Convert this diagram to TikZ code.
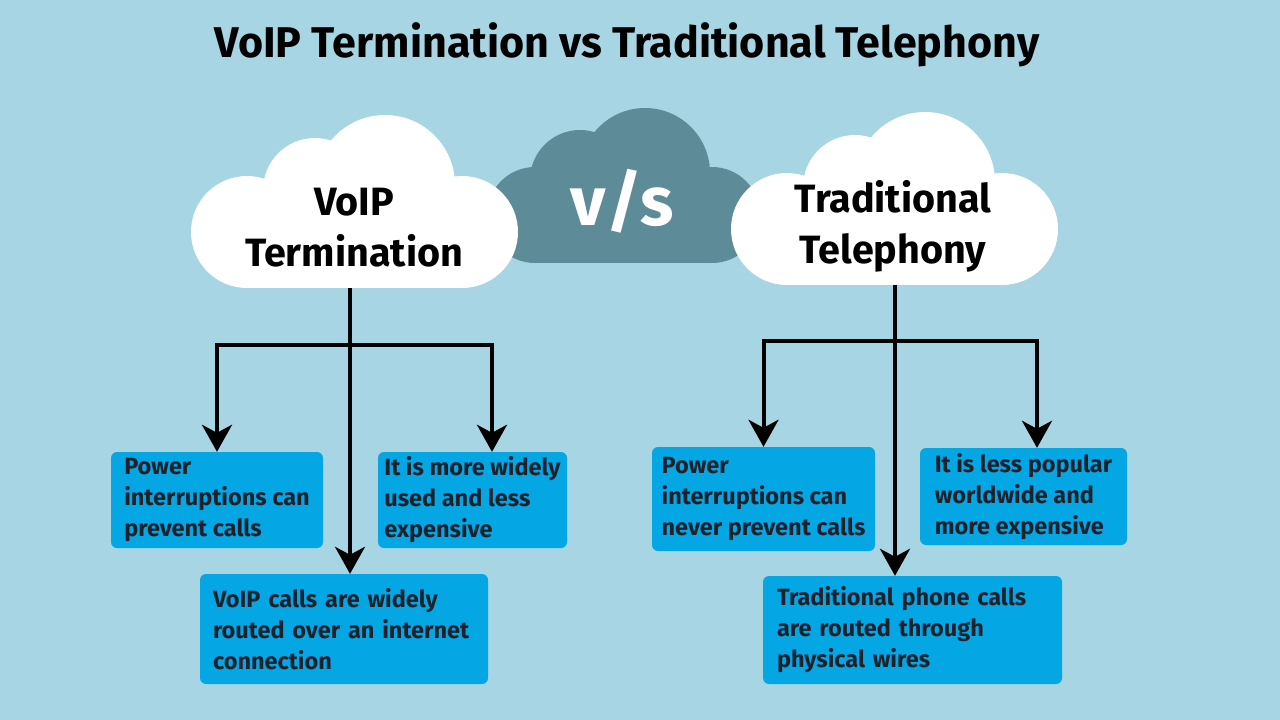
\documentclass[tikz,border=0pt]{standalone}
\usepackage{fontspec}
\setmainfont{Fira Sans}
\usetikzlibrary{arrows.meta, positioning}
\definecolor{skyback}{RGB}{168,213,227}
\definecolor{cloudgrey}{RGB}{94,139,152}
\definecolor{boxblue}{RGB}{5,166,228}
\definecolor{inkdark}{RGB}{28,33,43}

\tikzset{
  infobox/.style={fill=boxblue, rounded corners=6pt, align=left, text=inkdark,
    font=\bfseries\fontsize{23.5}{31}\selectfont},
  cloudtext/.style={align=center, font=\bfseries\fontsize{39.5}{51}\selectfont},
  branch/.style={line width=4pt, -{Stealth[length=27pt, width=30pt, inset=8pt]}},
}

\begin{document}
\begin{tikzpicture}[x=1pt, y=-1pt]
\fill[skyback] (0,0) rectangle (1280,720);
\useasboundingbox (0,0) rectangle (1280,720);

% middle cloud
\fill[cloudgrey] (535,190) rectangle (712,263);
\fill[cloudgrey] (535,215) circle[radius=48pt];
\fill[cloudgrey] (580,180) circle[radius=50pt];
\fill[cloudgrey] (645,173) circle[radius=65pt];
\fill[cloudgrey] (712,215) circle[radius=48pt];

% white clouds
\foreach \dx/\dy in {0/0, 540/-3}{
\begin{scope}[shift={(\dx,\dy)}]
\fill[white] (247,200) rectangle (462,288);
\fill[white] (247,232) circle[radius=56pt];
\fill[white] (315,190) circle[radius=52pt];
\fill[white] (385,185) circle[radius=70pt];
\fill[white] (462,232) circle[radius=56pt];
\end{scope}
}

\node[font=\bfseries\fontsize{43}{45}\selectfont] (title) at (627,45) {VoIP Termination vs Traditional Telephony};
\node[font=\bfseries\fontsize{69}{69}\selectfont, text=white] (vs) at (622,201) {v/s};
\node[cloudtext] (voip) at (354,228) {VoIP\\Termination};
\node[cloudtext] (trad) at (893,226) {Traditional\\Telephony};

% VoIP side
\node[infobox, minimum width=212pt, minimum height=96pt] (lpow) at (217,500) {Power\\interruptions can\\prevent calls};
\node[infobox, minimum width=189pt, minimum height=96pt] (lwide) at (472.5,500) {It is more widely\\used and less\\expensive};
\node[infobox, inner xsep=13pt, text width=262pt, minimum height=110pt] (lnet) at (344,629) {VoIP calls are widely\\routed over an internet\\connection};

\coordinate (voipfoot) at (350,288);
\coordinate (ljoin) at (350,345);
\draw[branch] (voipfoot) -- (voipfoot |- lnet.north);
\draw[branch] (ljoin) -| (lpow.north);
\draw[branch] (ljoin) -| ([xshift=19.5pt]lwide.north);

% traditional side
\node[infobox, minimum width=223pt, minimum height=104pt] (rpow) at (763.5,499) {Power\\interruptions can\\never prevent calls};
\node[infobox, minimum width=207pt, minimum height=97pt] (rcost) at (1023.5,496.5) {It is less popular\\worldwide and\\more expensive};
\node[infobox, inner xsep=14pt, text width=271pt, minimum height=108pt] (rphone) at (912.5,630) {Traditional phone calls\\are routed through\\physical wires};

\coordinate (telfoot) at (895,285);
\coordinate (rjoin) at (895,341);
\draw[branch] (telfoot) -- (telfoot |- rphone.north);
\draw[branch] (rjoin) -| (rpow.north);
\draw[branch] (rjoin) -| ([xshift=13.5pt]rcost.north);

\end{tikzpicture}
\end{document}
